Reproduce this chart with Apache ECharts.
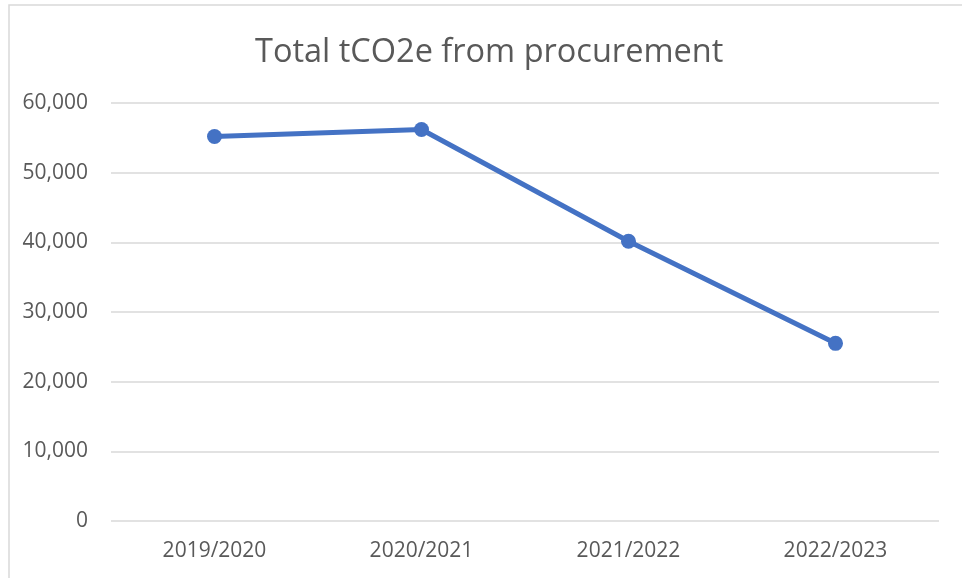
<!DOCTYPE html>
<html>
<head>
<meta charset="utf-8">
<title>Total tCO2e from procurement</title>
<script src="https://cdn.jsdelivr.net/npm/echarts@6/dist/echarts.min.js"></script>
<style>
  html, body { margin: 0; padding: 0; background: #fff; }
  #chart { width: 962px; height: 578px; }
</style>
</head>
<body>
<div id="chart"></div>
<script>
// data
var years = ['2019/2020', '2020/2021', '2021/2022', '2022/2023']
var tco2e = [55200, 56200, 40150, 25500]
var yTicks = [0, 10000, 20000, 30000, 40000, 50000, 60000]

var textColor = '#595959'
var chart = echarts.init(document.getElementById('chart'))

var option = {
  backgroundColor: '#fff',
  animation: false,
  title: {
    text: 'Total tCO2e from procurement',
    left: 250,
    top: 31,
    textStyle: {
      fontFamily: 'Open Sans',
      fontWeight: 'normal',
      fontSize: 32.5,
      color: textColor
    }
  },
  // chart frame
  graphic: [{
    type: 'rect',
    shape: { x: 9, y: 5, width: 1000, height: 1000 },
    style: { fill: 'none', stroke: '#d9d9d9', lineWidth: 1.5 },
    silent: true
  }],
  grid: { left: 111, right: 23, top: 103, bottom: 57 },
  xAxis: {
    type: 'category',
    data: years,
    boundaryGap: true,
    axisLine: { show: false },
    axisTick: { show: false },
    axisLabel: {
      margin: 20,
      fontFamily: 'Open Sans',
      fontSize: 21,
      color: textColor
    }
  },
  yAxis: {
    type: 'value',
    min: yTicks[0],
    max: yTicks[yTicks.length - 1],
    interval: 10000,
    axisLine: { show: false },
    axisTick: { show: false },
    splitLine: { lineStyle: { color: '#d9d9d9', width: 1.5 } },
    axisLabel: {
      margin: 23,
      padding: [8, 0, 0, 0],
      fontFamily: 'Open Sans',
      fontSize: 21,
      color: textColor,
      formatter: function (v) { return v.toLocaleString('en-US') }
    }
  },
  series: [{
    type: 'line',
    data: tco2e,
    symbol: 'circle',
    symbolSize: 15,
    lineStyle: { color: '#4472C4', width: 5 },
    itemStyle: { color: '#4472C4' }
  }]
}
chart.setOption(option)
</script>
</body>
</html>
